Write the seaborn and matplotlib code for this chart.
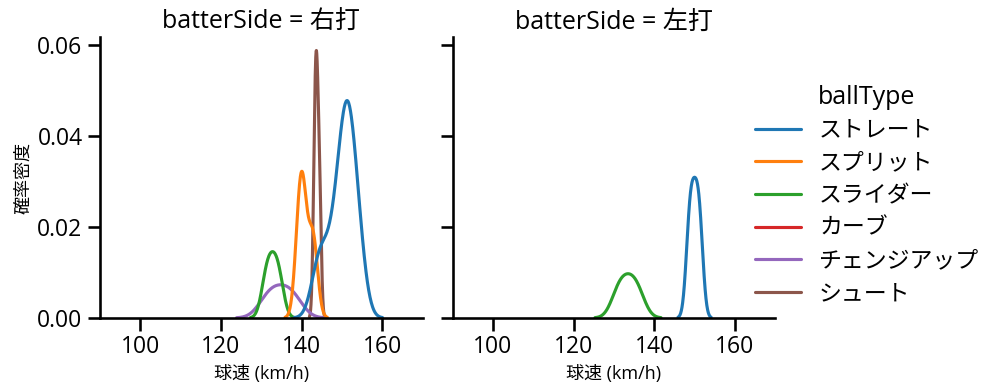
import pandas as pd
import matplotlib.pyplot as plt
import seaborn as sns

sides = ["右打", "左打"]
ball_types = ["ストレート", "スプリット", "スライダー", "カーブ", "チェンジアップ", "シュート"]

# pitch speeds (km/h), right-handed batters
r_straight = [151.3, 151.3, 151.3, 150.75, 151.85, 150.15, 152.45, 149.5,
              153.1, 148.75, 153.85, 148.0, 154.6, 143.6, 144.8, 146.0]
r_split = [139.2, 139.8, 140.2, 140.7, 142.6, 143.1]
r_slider = [131.2, 132.8, 134.4]
r_curve = [118.0]
r_change = [131.6, 134.8, 138.0]
r_shoot = [143.2, 143.6, 143.9, 144.5]

# left-handed batters
l_straight = [148.5, 149.2, 150.0, 150.8, 151.5]
l_slider = [131.1, 133.5, 135.9]

groups = [
    ("右打", "ストレート", r_straight),
    ("右打", "スプリット", r_split),
    ("右打", "スライダー", r_slider),
    ("右打", "カーブ", r_curve),
    ("右打", "チェンジアップ", r_change),
    ("右打", "シュート", r_shoot),
    ("左打", "ストレート", l_straight),
    ("左打", "スライダー", l_slider),
]
rows = []
for side, bt, speeds in groups:
    for v in speeds:
        rows.append({"batterSide": side, "ballType": bt, "speed": v})
df = pd.DataFrame(rows)

sns.set_theme(style="ticks", context="talk", rc={
    "text.color": "black", "axes.labelcolor": "black",
    "xtick.color": "black", "ytick.color": "black", "axes.edgecolor": "black",
})
plt.rcParams["font.family"] = ["Open Sans", "Noto Sans CJK JP", "DejaVu Sans"]

g = sns.displot(
    data=df, x="speed", hue="ballType", col="batterSide",
    kind="kde", hue_order=ball_types, col_order=sides,
    palette="tab10", height=4, aspect=1,
)
g.set(xlim=(90, 170), yticks=[0, 0.02, 0.04, 0.06])
g.set_axis_labels("球速 (km/h)", "確率密度", fontsize=13)

g.fig.set_size_inches(9.99, 3.91)
g.fig.subplots_adjust(left=0.100, right=0.776, bottom=0.187, top=0.905, wspace=0.093)
sns.move_legend(g, "center left", bbox_to_anchor=(0.735, 0.5), frameon=False,
                labelspacing=0.38)

g.fig.savefig("out.png", dpi=100)
